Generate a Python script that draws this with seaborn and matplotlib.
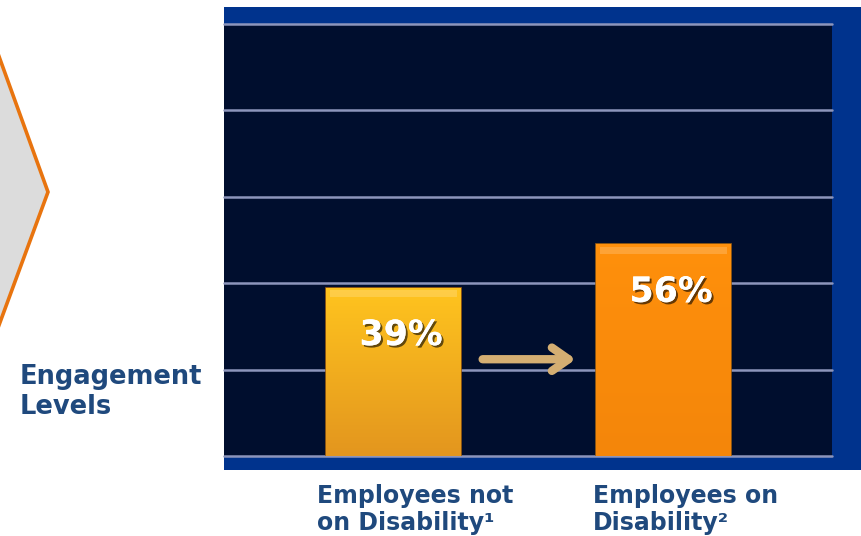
import matplotlib
matplotlib.use("Agg")
import matplotlib.pyplot as plt
import matplotlib.patheffects as pe
from matplotlib.patches import Rectangle, Polygon
from matplotlib.colors import LinearSegmentedColormap
import numpy as np
import seaborn as sns

# Values
categories = ["Employees not\non Disability\u00b9", "Employees on\nDisability\u00b2"]
bar_heights = [39, 49]          # bar tops against the 5 gridlines (0-100 scale)
bar_labels = ["39%", "56%"]     # printed labels
bar_colors = ["#FDB515", "#FC8A08"]
bar_gradients = [("#FFC41E", "#E3961F"), ("#FF900C", "#F4860A")]  # top, bottom
grid_ticks = [0, 20, 40, 60, 80, 100]

TEXT_BLUE = "#1F497D"
PANEL_BLUE = "#00338D"
PLOT_BG = "#000E2E"

sns.set_theme(style="white")
plt.rcParams["font.family"] = ["DejaVu Sans"]

W, H = 862, 536
fig = plt.figure(figsize=(W / 100, H / 100), dpi=100)
fig.patch.set_facecolor("white")

def fx(px):
    return px / W

def fy(py):
    return 1 - py / H

# blue panel behind the chart
fig.patches.append(Rectangle((fx(224), fy(470)), fx(862) - fx(224), fy(7) - fy(470),
                             transform=fig.transFigure, facecolor=PANEL_BLUE,
                             edgecolor="none", zorder=-2))

# grey chevron on the left, cut by the edge of the slide
fig.patches.append(Polygon([(fx(-12), fy(26)), (fx(48), fy(192)), (fx(-12), fy(355))],
                           closed=True, transform=fig.transFigure,
                           facecolor="#DCDCDC", edgecolor="#E8740F", linewidth=2.6,
                           zorder=-1))

ax = fig.add_axes([fx(224), fy(456), fx(832) - fx(224), fy(24) - fy(456)])
ax.set_zorder(1)
ax.set_facecolor(PLOT_BG)

sns.barplot(x=categories, y=bar_heights, hue=categories, palette=bar_colors,
            saturation=1, width=0.5, legend=False, ax=ax,
            edgecolor="#A0600F", linewidth=1.2, zorder=3)

ax.set_ylim(grid_ticks[0], grid_ticks[-1])
ax.set_xlim(-0.628, 1.624)
ax.set_yticks(grid_ticks)
ax.yaxis.grid(True, color="#8C95BC", linewidth=1.8, zorder=1)
for gl in ax.get_ygridlines():
    gl.set_clip_on(False)
ax.set_axisbelow(True)
ax.tick_params(left=False, bottom=False, labelleft=False, labelbottom=False)
ax.set_xlabel("")
ax.set_ylabel("")
for s in ax.spines.values():
    s.set_visible(False)

# soft vertical gradient on each bar, clipped to the bar itself
for patch, (top, bottom) in zip(ax.patches, bar_gradients):
    x0, y0 = patch.get_x(), patch.get_y()
    w, h = patch.get_width(), patch.get_height()
    cmap = LinearSegmentedColormap.from_list("g", [bottom, top])
    grad = np.linspace(0, 1, 64).reshape(-1, 1)
    im = ax.imshow(grad, cmap=cmap, aspect="auto", origin="lower",
                   extent=(x0, x0 + w, y0, y0 + h), zorder=3.5)
    im.set_clip_path(patch)
    # lighter bevel strip along the top
    ax.add_patch(Rectangle((x0 + w * 0.03, y0 + h - 2.2), w * 0.94, 1.6,
                           facecolor="white", alpha=0.18, edgecolor="none",
                           zorder=3.6))
ax.set_xlim(-0.628, 1.624)
ax.set_ylim(grid_ticks[0], grid_ticks[-1])

# value labels inside the bars
shadow = [pe.withSimplePatchShadow(offset=(1.5, -1.5), shadow_rgbFace="black", alpha=0.6),
          pe.Normal()]
for i, (h, lab) in enumerate(zip(bar_heights, bar_labels)):
    ax.text(i + 0.028, h - 11, lab, ha="center", va="center", color="white",
            fontsize=25, fontweight="bold", path_effects=shadow, zorder=5)

# arrow between the bars
ax.annotate("", xy=(0.675, 22.4), xytext=(0.33, 22.4),
            arrowprops=dict(arrowstyle="->,head_length=1.0,head_width=0.7",
                            color="#D4AE72", linewidth=6, capstyle="round",
                            joinstyle="round", shrinkA=0, shrinkB=0), zorder=4)

# category labels under the chart
for i, cat in enumerate(categories):
    ax.annotate(cat, xy=(i + 0.08, 0), xycoords=("data", "axes fraction"),
                xytext=(0, -20), textcoords="offset points",
                ha="center", va="top", multialignment="left", linespacing=1.15,
                color=TEXT_BLUE, fontsize=17, fontweight="bold",
                annotation_clip=False)

fig.text(fx(20), fy(364), "Engagement\nLevels", ha="left", va="top",
         color=TEXT_BLUE, fontsize=18.5, fontweight="bold", linespacing=1.2)

fig.savefig("out.png", dpi=100, facecolor=fig.get_facecolor())
